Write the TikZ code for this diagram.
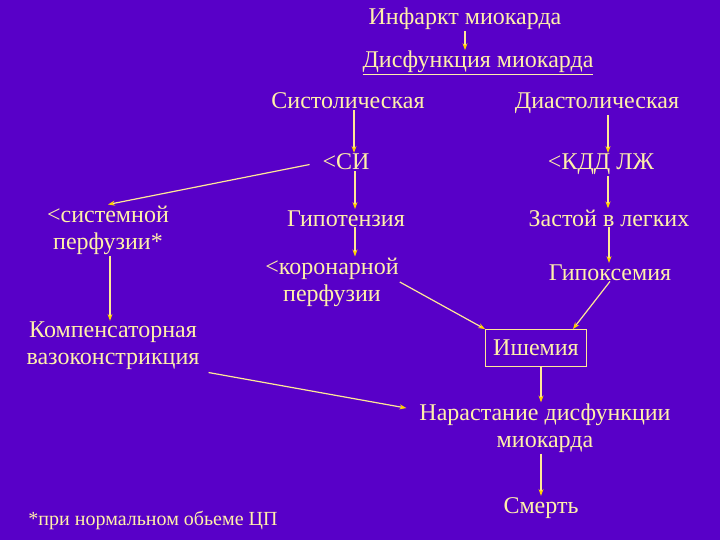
\documentclass[tikz,border=0pt]{standalone}
\usepackage{fontspec}
\setmainfont{Liberation Serif}
\usetikzlibrary{arrows.meta}
\usetikzlibrary{positioning}
\definecolor{slidebg}{RGB}{88,0,200}
\definecolor{slidetext}{RGB}{255,240,170}
\definecolor{slideline}{RGB}{255,232,150}
\definecolor{slidetip}{RGB}{255,210,0}

\begin{document}
\begin{tikzpicture}[x=1pt, y=-1pt,
    lbl/.style={text=slidetext, font=\fontsize{24}{27}\selectfont, align=center, inner sep=1pt},
    one/.style={lbl, anchor=base},
    conn/.style={draw=slideline, line width=1.2pt, -{Stealth[length=7pt, width=5pt, color=slidetip]}}]
  \fill[slidebg] (0,0) rectangle (720,540);

  \node[one] (infarct) at (465,25) {Инфаркт миокарда};
  \node[one] (dysf) at (478,68) {\underline{Дисфункция миокарда}};
  \node[one] (sys) at (348,109) {Систолическая};
  \node[one] (dia) at (597,109) {Диастолическая};
  \node[one] (si) at (346,170) {<СИ};
  \node[one] (kdd) at (601,170) {<КДД ЛЖ};
  \node[lbl] (sysperf) at (108,230) {<системной\\перфузии*};
  \node[one] (hypot) at (346,226) {Гипотензия};
  \node[one] (zastoy) at (609,226) {Застой в легких};
  \node[lbl] (coron) at (332,282) {<коронарной\\перфузии};
  \node[one] (hypox) at (610,280) {Гипоксемия};
  \node[lbl] (kompens) at (113,346) {Компенсаторная\\вазоконстрикция};
  \node[lbl, draw=slideline, line width=0.8pt, minimum width=101pt, minimum height=37pt] (isch) at (536,348) {Ишемия};
  \node[lbl] (narast) at (545,428) {Нарастание дисфункции\\миокарда};
  \node[one] (smert) at (541,513) {Смерть};
  \node[one, font=\fontsize{20}{22}\selectfont] (note) at (153,525) {*при нормальном обьеме ЦП};

  \draw[conn] (infarct.south) -- (infarct.south |- dysf.north);
  \draw[conn] ([xshift=6pt]sys.south) -- ([xshift=6pt]sys.south |- si.north);
  \draw[conn] ([xshift=11pt]dia.south) -- ([xshift=11pt]dia.south |- kdd.north);
  \draw[conn, shorten <=12pt] (si.west) -- (sysperf.north);
  \draw[conn] ([xshift=9pt]si.south) -- ([xshift=9pt]si.south |- hypot.north);
  \draw[conn] ([xshift=9pt]hypot.south) -- ([xshift=9pt]hypot.south |- coron.north);
  \draw[conn] ([xshift=7pt]kdd.south) -- ([xshift=7pt]kdd.south |- zastoy.north);
  \draw[conn] (zastoy.south) -- (zastoy.south |- hypox.north);
  \draw[conn] (hypox.south) -- ([xshift=-14pt]isch.north east);
  \draw[conn] (coron.east) -- (isch.north west);
  \draw[conn] ([xshift=2pt]sysperf.south) -- ([xshift=2pt]sysperf.south |- kompens.north);
  \draw[conn, shorten <=8pt, shorten >=12pt] (kompens.south east) -- (narast.172);
  \draw[conn] ([xshift=5pt]isch.south) -- ([xshift=5pt]isch.south |- narast.north);
  \draw[conn] ([xshift=-4pt]narast.south) -- ([xshift=-4pt]narast.south |- smert.north);
\end{tikzpicture}
\end{document}
